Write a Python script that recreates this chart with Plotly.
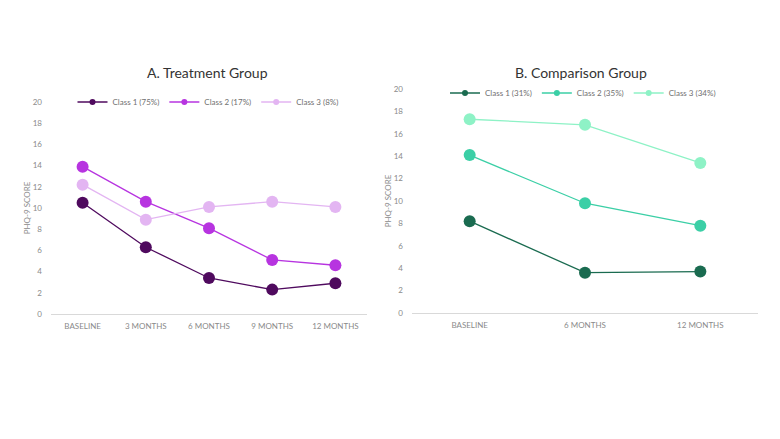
import plotly.graph_objects as go

# Treatment group (panel A)
treat_times = ["BASELINE", "3 MONTHS", "6 MONTHS", "9 MONTHS", "12 MONTHS"]
treat_names = ["Class 1 (75%)", "Class 2 (17%)", "Class 3 (8%)"]
treat_class1 = [10.5, 6.3, 3.4, 2.3, 2.9]
treat_class2 = [13.9, 10.6, 8.1, 5.1, 4.6]
treat_class3 = [12.2, 8.9, 10.1, 10.6, 10.1]
treat_colors = ["#4f0a5e", "#b734e0", "#e3b5f2"]

# Comparison group (panel B)
comp_times = ["BASELINE", "6 MONTHS", "12 MONTHS"]
comp_names = ["Class 1 (31%)", "Class 2 (35%)", "Class 3 (34%)"]
comp_class1 = [8.2, 3.6, 3.7]
comp_class2 = [14.1, 9.8, 7.8]
comp_class3 = [17.3, 16.8, 13.4]
comp_colors = ["#1a6b50", "#3bcfa6", "#8ef2c6"]

FONT = "Lato, Open Sans, sans-serif"
W, H = 780, 439
OFF = 8  # page body margin


def px(x):
    return (x - OFF) / W


def py(y):
    return 1 - (y - OFF) / H


fig = go.Figure()


def add_panel(times, series, names, colors, xa, ya, legend):
    for vals, name, col in zip(series, names, colors):
        fig.add_trace(go.Scatter(
            x=times, y=vals, mode="lines+markers", name=name,
            line=dict(color=col, width=1.3),
            marker=dict(color=col, size=12),
            xaxis=xa, yaxis=ya, showlegend=False, legend=legend))
        # small legend entry like the original
        fig.add_trace(go.Scatter(
            x=[None], y=[None], mode="lines+markers", name=name,
            line=dict(color=col, width=1.3),
            marker=dict(color=col, size=6),
            xaxis=xa, yaxis=ya, legend=legend))


add_panel(treat_times, [treat_class1, treat_class2, treat_class3],
          treat_names, treat_colors, "x", "y", "legend")
add_panel(comp_times, [comp_class1, comp_class2, comp_class3],
          comp_names, comp_colors, "x2", "y2", "legend2")

tick_font = dict(family=FONT, size=8, color="#8a8a8a")
xcommon = dict(showgrid=False, zeroline=False, showline=True,
               linecolor="#d9d9d9", linewidth=1, ticks="", tickfont=tick_font,
               fixedrange=True, automargin=False, ticklabelstandoff=4)
ycommon = dict(range=[0, 20], dtick=2, showgrid=False, zeroline=False,
               showline=False, ticks="", tickfont=tick_font, automargin=False,
               ticklabelstandoff=8, fixedrange=True,
               title=dict(text="PHQ-9 SCORE", font=dict(family=FONT, size=8, color="#8a8a8a"), standoff=0))
legend_font = dict(family=FONT, size=8, color="#707070")

fig.update_layout(
    width=W, height=H,
    margin=dict(l=0, r=0, t=0, b=0),
    paper_bgcolor="white", plot_bgcolor="white",
    font=dict(family=FONT),
    xaxis=dict(domain=[px(51), px(367)], anchor="y",
               range=[-0.5, len(treat_times) - 0.5], **xcommon),
    yaxis=dict(domain=[py(314), py(102)], anchor="x", **ycommon),
    xaxis2=dict(domain=[px(412), px(758)], anchor="y2",
                range=[-0.5, len(comp_times) - 0.5], **xcommon),
    yaxis2=dict(domain=[py(313), py(89)], anchor="x2", **ycommon),
    legend=dict(orientation="h", x=px(208), xanchor="center", y=py(102),
                yanchor="middle", font=legend_font,
                bgcolor="rgba(0,0,0,0)", itemwidth=30, tracegroupgap=0),
    legend2=dict(orientation="h", x=px(583), xanchor="center", y=py(93),
                 yanchor="middle", font=legend_font,
                 bgcolor="rgba(0,0,0,0)", itemwidth=30, tracegroupgap=0),
    annotations=[
        dict(text="A. Treatment Group", x=px(207), y=py(73), xref="paper",
             yref="paper", showarrow=False, xanchor="center", yanchor="middle",
             font=dict(family=FONT, size=14, color="#333333")),
        dict(text="B. Comparison Group", x=px(581), y=py(73), xref="paper",
             yref="paper", showarrow=False, xanchor="center", yanchor="middle",
             font=dict(family=FONT, size=14, color="#333333")),
    ],
)

fig.write_html("out.html")
